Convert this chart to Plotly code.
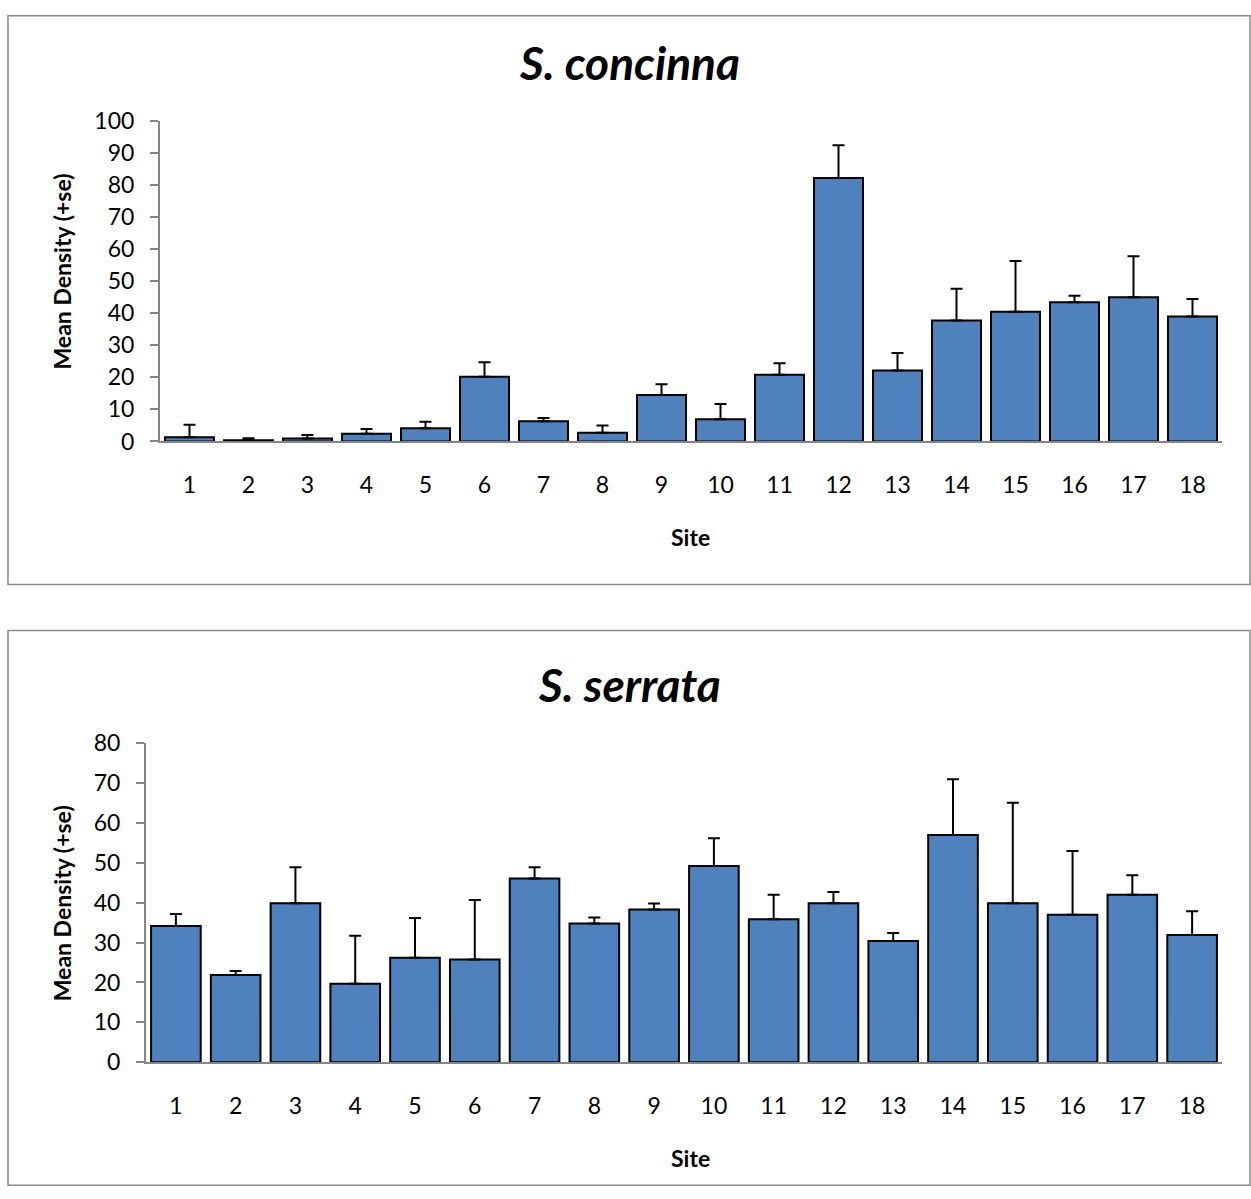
import plotly.graph_objects as go

sites = [str(i) for i in range(1, 19)]

concinna_mean = [1.3, 0.4, 0.9, 2.4, 4.1, 20.2, 6.3, 2.7, 14.5, 6.9,
                 20.8, 82.1, 22.1, 37.7, 40.4, 43.4, 44.9, 38.9]
concinna_se = [3.9, 0.6, 1.1, 1.5, 2.0, 4.5, 1.0, 2.3, 3.3, 4.8,
               3.6, 10.2, 5.5, 9.9, 15.8, 2.0, 12.8, 5.5]

serrata_mean = [34.2, 21.9, 39.9, 19.7, 26.2, 25.8, 46.1, 34.8, 38.3, 49.2,
                35.9, 39.9, 30.4, 57.0, 39.9, 37.0, 42.0, 31.9]
serrata_se = [3.0, 1.0, 9.0, 12.0, 10.0, 14.9, 2.8, 1.5, 1.5, 7.0,
              6.1, 2.8, 2.0, 14.0, 25.2, 16.0, 4.9, 6.0]

titles = ["S. concinna", "S. serrata"]
y_title = "Mean Density (+se)"
x_title = "Site"

W, H = 1251, 1199
FONT = "Lato"
BAR = "#4F81BD"
GRAY = "#868686"

# vertical calibration of page position -> figure position
Y_OFF, Y_SCALE = 14.4, 0.977


def px(x):
    return x / W


def py(y):
    f = (y - Y_OFF) / Y_SCALE
    f = min(max(f, 0.75), H - 0.75)
    return 1 - f / H


fig = go.Figure()

fig.add_trace(go.Bar(
    x=sites, y=concinna_mean, xaxis="x", yaxis="y",
    marker=dict(color=BAR, line=dict(color="black", width=2)),
    error_y=dict(type="data", array=concinna_se, symmetric=False,
                 arrayminus=[0] * 18, color="black", thickness=2, width=6),
    showlegend=False,
))
fig.add_trace(go.Bar(
    x=sites, y=serrata_mean, xaxis="x2", yaxis="y2",
    marker=dict(color=BAR, line=dict(color="black", width=2)),
    error_y=dict(type="data", array=serrata_se, symmetric=False,
                 arrayminus=[0] * 18, color="black", thickness=2, width=6),
    showlegend=False,
))

xcommon = dict(showline=True, linecolor=GRAY, linewidth=2, ticks="",
               showgrid=False, zeroline=False,
               tickfont=dict(family=FONT, size=23, color="black"),
               ticklabelstandoff=22)
ycommon = dict(showline=True, linecolor=GRAY, linewidth=2, ticks="outside",
               ticklen=8, tickwidth=2, tickcolor=GRAY, showgrid=False,
               zeroline=False, tickfont=dict(family=FONT, size=23, color="black"),
               ticklabelstandoff=11)

fig.update_layout(
    width=W, height=H,
    margin=dict(l=0, r=0, t=0, b=0),
    paper_bgcolor="white", plot_bgcolor="white",
    bargap=0.17,
    xaxis=dict(domain=[px(160), px(1222)], anchor="y", **xcommon),
    yaxis=dict(domain=[py(441), py(120)], anchor="x", range=[0, 100],
               tickvals=list(range(0, 101, 10)), **ycommon),
    xaxis2=dict(domain=[px(146), px(1222)], anchor="y2", **xcommon),
    yaxis2=dict(domain=[py(1062), py(743)], anchor="x2", range=[0, 80],
                tickvals=list(range(0, 81, 10)), **ycommon),
)

shapes = []
for (t, b) in [(8, 584), (630, 1197)]:
    shapes.append(dict(type="rect", xref="paper", yref="paper",
                       x0=px(8), x1=px(1250), y0=py(b), y1=py(t),
                       line=dict(color="#8a8a8a", width=1.5),
                       fillcolor="rgba(0,0,0,0)", layer="below"))
fig.update_layout(shapes=shapes)

ann = []
for title, ty, sy, yc in [(titles[0], 62, 537, 271), (titles[1], 684, 1158, 903)]:
    ann.append(dict(text="<b><i>" + title + "</i></b>", x=px(629), y=py(ty),
                    xref="paper", yref="paper", showarrow=False,
                    font=dict(family=FONT, size=46, color="black"),
                    xanchor="center", yanchor="middle"))
    ann.append(dict(text="<b>" + x_title + "</b>", x=px(690), y=py(sy),
                    xref="paper", yref="paper", showarrow=False,
                    font=dict(family=FONT, size=23, color="black"),
                    xanchor="center", yanchor="middle"))
    ann.append(dict(text="<b>" + y_title + "</b>", x=px(62), y=py(yc),
                    xref="paper", yref="paper", showarrow=False, textangle=-90,
                    font=dict(family=FONT, size=23, color="black"),
                    xanchor="center", yanchor="middle"))
fig.update_layout(annotations=ann)

fig.write_html(
    "out.html",
    config=dict(displayModeBar=False),
    post_script="document.body.style.margin='0';document.body.style.overflow='hidden';",
)
